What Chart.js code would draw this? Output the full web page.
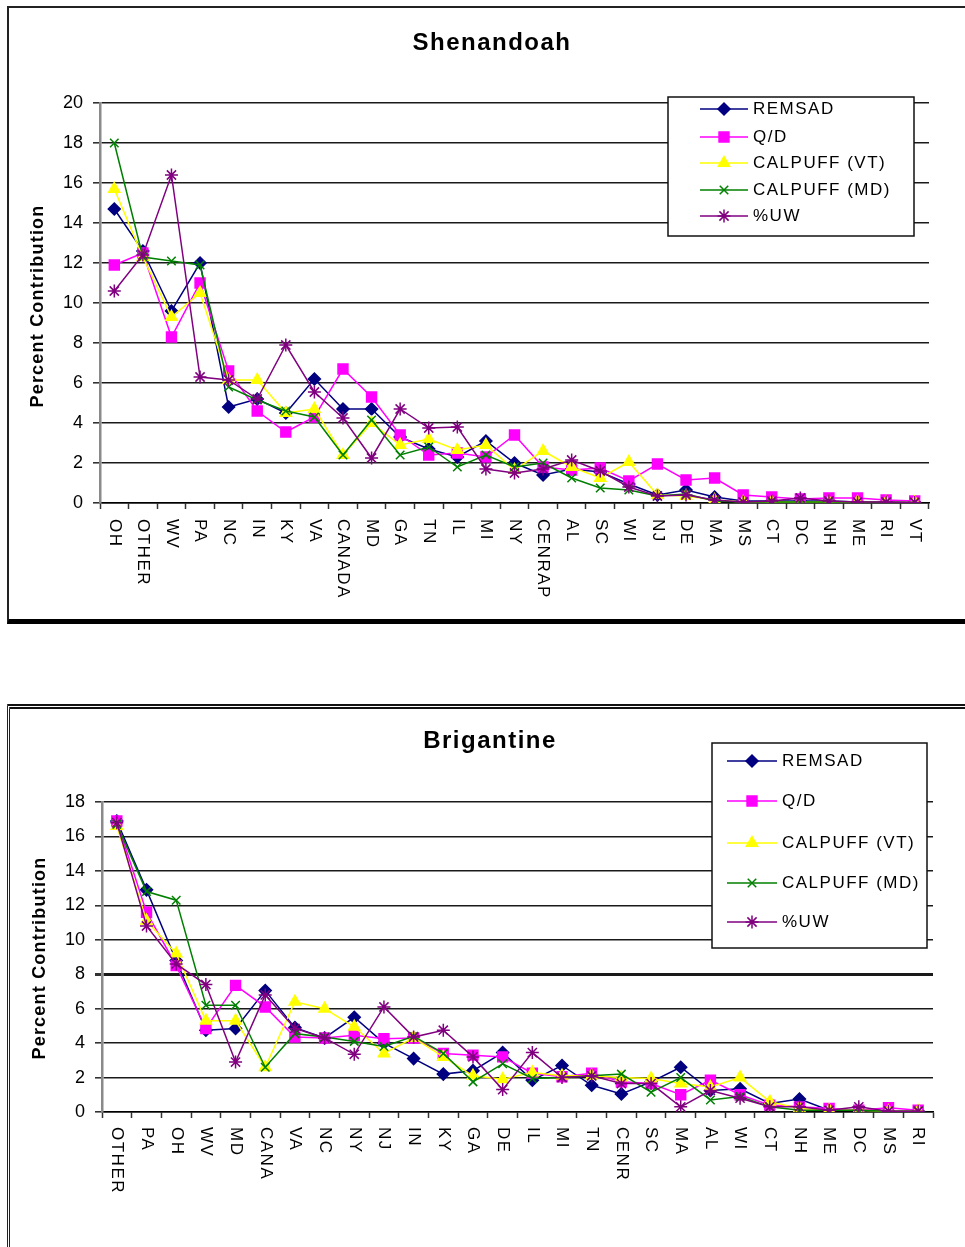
<!DOCTYPE html>
<html>
<head>
<meta charset="utf-8">
<script src="https://cdn.jsdelivr.net/npm/chart.js@4.4.1/dist/chart.umd.min.js"></script>
<style>
  html, body { margin: 0; padding: 0; background: #fff; width: 965px; height: 1247px; overflow: hidden; }
  .frame1 { position: absolute; left: 7px; top: 6px; width: 990px; height: 611px;
            border: 2px solid #222; border-bottom: 5px solid #000; box-sizing: content-box; }
  .frame2 { position: absolute; left: 7px; top: 704px; width: 990px; height: 600px;
            border-top: 5px double #111; border-left: 3px double #222; }
  .holder { position: absolute; left: 0; }
  canvas { display: block; }
</style>
</head>
<body>
<div class="frame1"></div>
<div class="frame2"></div>
<div class="holder" style="top:0px"><canvas id="shen" width="965" height="700"></canvas></div>
<div class="holder" style="top:700px"><canvas id="brig" width="965" height="547"></canvas></div>
<script>
// ---- Shenandoah: percent contribution by source region ----
const shenRegions = ['OH','OTHER','WV','PA','NC','IN','KY','VA','CANADA','MD','GA','TN','IL','MI','NY',
  'CENRAP','AL','SC','WI','NJ','DE','MA','MS','CT','DC','NH','ME','RI','VT'];
const shenRemsad = [14.7,12.6,9.6,12.0,4.8,5.2,4.5,6.2,4.7,4.7,3.3,2.7,2.3,3.1,2.0,
  1.4,1.7,1.55,0.95,0.4,0.65,0.3,0.1,0.1,0.1,0.1,0.05,0.05,0.03];
const shenQD = [11.9,12.5,8.3,11.0,6.6,4.6,3.55,4.3,6.7,5.3,3.4,2.4,2.5,2.3,3.4,
  1.8,1.65,1.75,1.1,1.95,1.15,1.25,0.4,0.3,0.2,0.25,0.25,0.15,0.1];
const shenCalpuffVT = [15.7,12.3,9.3,10.5,6.15,6.15,4.5,4.7,2.4,4.0,2.9,3.2,2.65,2.9,1.65,
  2.6,1.8,1.25,2.05,0.4,0.35,0.15,0.05,0.05,0.05,0.05,0.05,0.03,0.03];
const shenCalpuffMD = [18.0,12.3,12.1,11.9,5.8,5.15,4.6,4.3,2.4,4.15,2.4,2.8,1.8,2.4,1.8,
  2.0,1.25,0.75,0.65,0.35,0.45,0.1,0.05,0.05,0.05,0.05,0.05,0.03,0.03];
const shenUW = [10.6,12.4,16.4,6.3,6.15,5.2,7.9,5.55,4.25,2.25,4.7,3.75,3.8,1.7,1.5,
  1.7,2.15,1.6,0.8,0.35,0.4,0.15,0.05,0.1,0.25,0.1,0.05,0.05,0.03];
const shenTicks = [0,2,4,6,8,10,12,14,16,18,20];

// ---- Brigantine: percent contribution by source region ----
const brigRegions = ['OTHER','PA','OH','WV','MD','CANA','VA','NC','NY','NJ','IN','KY','GA','DE',
  'IL','MI','TN','CENR','SC','MA','AL','WI','CT','NH','ME','DC','MS','RI'];
const brigRemsad = [16.9,12.9,8.8,4.75,4.85,7.05,4.9,4.3,5.5,4.0,3.1,2.2,2.4,3.45,
  1.85,2.7,1.55,1.05,1.75,2.6,1.25,1.35,0.5,0.75,0.1,0.1,0.05,0.05];
const brigQD = [16.9,11.6,8.5,4.85,7.35,6.1,4.35,4.3,4.45,4.25,4.3,3.4,3.3,3.2,
  2.25,2.05,2.25,1.75,1.65,1.0,1.85,1.0,0.4,0.3,0.2,0.1,0.25,0.1];
const brigCalpuffVT = [16.6,11.1,9.2,5.3,5.3,2.6,6.4,6.0,4.95,3.4,4.3,3.2,2.1,1.9,
  2.3,2.1,2.1,2.0,1.95,1.65,1.45,2.0,0.6,0.2,0.1,0.1,0.05,0.05];
const brigCalpuffMD = [16.7,12.8,12.3,6.2,6.2,2.6,4.55,4.35,4.1,3.8,4.4,3.4,1.75,2.8,
  1.95,2.0,2.1,2.2,1.15,2.0,0.7,0.9,0.3,0.1,0.1,0.1,0.05,0.05];
const brigUW = [16.8,10.8,8.6,7.4,2.9,6.8,4.85,4.3,3.35,6.1,4.35,4.75,3.2,1.3,
  3.45,2.0,2.1,1.65,1.65,0.3,1.25,0.8,0.3,0.3,0.1,0.3,0.05,0.05];
const brigTicks = [0,2,4,6,8,10,12,14,16,18];

const seriesNames = ['REMSAD','Q/D','CALPUFF (VT)','CALPUFF (MD)','%UW'];

const FONT = '"Liberation Sans", Arial, sans-serif';

// line/marker look of each model series
const seriesStyle = [
  { color: '#000080', pointStyle: 'rectRot', radius: 6 },
  { color: '#FF00FF', pointStyle: 'rect', radius: 7 },
  { color: '#FFFF00', pointStyle: 'triangle', radius: 6.5 },
  { color: '#008000', pointStyle: 'crossRot', radius: 6 },
  { color: '#800080', pointStyle: 'star', radius: 6.5 }
];

function makeDatasets(valueLists) {
  return valueLists.map((vals, i) => {
    const s = seriesStyle[i];
    return {
      label: seriesNames[i],
      data: vals,
      borderColor: s.color,
      backgroundColor: s.color,
      pointBackgroundColor: s.color,
      pointBorderColor: s.color,
      pointStyle: s.pointStyle,
      pointRadius: s.radius,
      pointBorderWidth: 1.5,
      borderWidth: 1.5,
      tension: 0,
      order: valueLists.length - i
    };
  });
}

// Draws the vertical (top-to-bottom) category names, chart title, y title and legend box
const decorations = {
  id: 'decorations',
  afterDraw(chart, args, o) {
    const ctx = chart.ctx;
    const xs = chart.scales.x;
    ctx.save();
    ctx.fillStyle = '#000';
    // category labels
    ctx.font = '17px ' + FONT;
    ctx.letterSpacing = '1.5px';
    ctx.textAlign = 'left';
    ctx.textBaseline = 'middle';
    chart.data.labels.forEach((lab, i) => {
      const px = xs.getPixelForValue(i);
      ctx.save();
      ctx.translate(px, xs.top + o.labelGap);
      ctx.rotate(Math.PI / 2);
      ctx.fillText(lab, 0, 0);
      ctx.restore();
    });
    // chart title
    ctx.font = 'bold 24px ' + FONT;
    ctx.letterSpacing = '1.5px';
    ctx.textAlign = 'center';
    ctx.fillText(o.title, o.titleX, o.titleY);
    // y axis title
    ctx.save();
    ctx.font = 'bold 18px ' + FONT;
    ctx.letterSpacing = '1.2px';
    ctx.translate(o.yTitleX, o.yTitleY);
    ctx.rotate(-Math.PI / 2);
    ctx.fillText('Percent Contribution', 0, 0);
    ctx.restore();
    // legend
    const L = o.legend;
    ctx.fillStyle = '#fff';
    ctx.fillRect(L.x, L.y, L.w, L.h);
    ctx.strokeStyle = '#111';
    ctx.lineWidth = 1.5;
    ctx.strokeRect(L.x, L.y, L.w, L.h);
    ctx.font = '17px ' + FONT;
    ctx.letterSpacing = '1.5px';
    ctx.textAlign = 'left';
    chart.data.datasets.forEach((ds, i) => {
      const y = L.rowY[i];
      ctx.strokeStyle = ds.borderColor;
      ctx.lineWidth = 1.5;
      ctx.beginPath();
      ctx.moveTo(L.lineX0, y);
      ctx.lineTo(L.lineX1, y);
      ctx.stroke();
      ctx.fillStyle = ds.pointBackgroundColor;
      ctx.strokeStyle = ds.pointBorderColor;
      ctx.lineWidth = 1.5;
      Chart.helpers.drawPoint(ctx, { pointStyle: ds.pointStyle, radius: ds.pointRadius, rotation: 0, borderWidth: 1.5 },
        (L.lineX0 + L.lineX1) / 2, y);
      ctx.fillStyle = '#000';
      ctx.fillText(ds.label, L.textX, y);
    });
    ctx.restore();
  }
};

function buildChart(canvasId, regions, valueLists, ticks, cfg) {
  const yMax = ticks[ticks.length - 1];
  return new Chart(document.getElementById(canvasId), {
    type: 'line',
    data: { labels: regions, datasets: makeDatasets(valueLists) },
    plugins: [decorations],
    options: {
      responsive: false,
      animation: false,
      events: [],
      layout: { padding: cfg.padding },
      plugins: {
        legend: { display: false },
        tooltip: { enabled: false },
        title: { display: false },
        decorations: cfg.deco
      },
      scales: {
        x: {
          type: 'category',
          offset: true,
          afterFit(scale) { scale.height = cfg.xHeight; },
          ticks: { display: false },
          grid: { display: true, offset: true, drawOnChartArea: false, drawTicks: true,
                  tickLength: 6, tickColor: '#333', tickWidth: 1.5 },
          border: { display: true, color: '#000', width: 1.5 }
        },
        y: {
          min: 0,
          max: yMax,
          afterFit(scale) { scale.width = cfg.yWidth; },
          afterBuildTicks(scale) { scale.ticks = ticks.map(v => ({ value: v })); },
          ticks: { color: '#000', padding: 10, font: { family: FONT, size: 18 } },
          grid: {
            color: '#1a1a1a',
            lineWidth: c => (c.tick && c.tick.value === cfg.heavyLine) ? 3 : 1.6,
            tickLength: 7,
            tickColor: '#333'
          },
          border: { display: true, color: '#8a8a8a', width: 2.5 }
        }
      }
    }
  });
}

buildChart('shen', shenRegions,
  [shenRemsad, shenQD, shenCalpuffVT, shenCalpuffMD, shenUW], shenTicks, {
    padding: { left: 30, right: 36, top: 103, bottom: 77 },
    yWidth: 70, xHeight: 120, heavyLine: null,
    deco: {
      labelGap: 16, title: 'Shenandoah', titleX: 492, titleY: 43, yTitleX: 38, yTitleY: 306,
      legend: { x: 668, y: 97, w: 246, h: 139, lineX0: 700, lineX1: 748, textX: 753,
                rowY: [109, 137, 163, 190, 216] }
    }
  });

buildChart('brig', brigRegions,
  [brigRemsad, brigQD, brigCalpuffVT, brigCalpuffMD, brigUW], brigTicks, {
    padding: { left: 32, right: 32, top: 102, bottom: 35 },
    yWidth: 70, xHeight: 100, heavyLine: 8,
    deco: {
      labelGap: 15, title: 'Brigantine', titleX: 490, titleY: 41, yTitleX: 40, yTitleY: 258,
      legend: { x: 712, y: 43, w: 215, h: 205, lineX0: 727, lineX1: 777, textX: 782,
                rowY: [61, 101, 143, 183, 222] }
    }
  });
</script>
</body>
</html>
